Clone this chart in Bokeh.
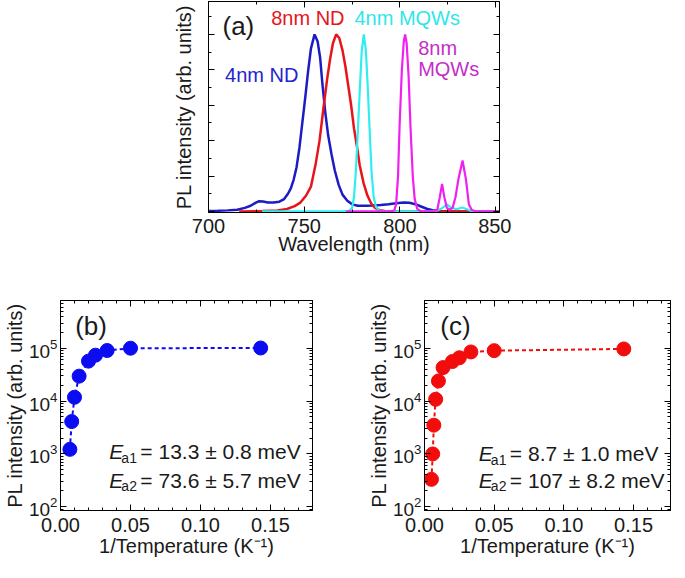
from bokeh.plotting import figure
from bokeh.models import (Range1d, LinearAxis, LogAxis, FixedTicker, SingleIntervalTicker,
                          CustomJSTickFormatter, PrintfTickFormatter, Label)
from bokeh.layouts import column, row
from bokeh.embed import file_html
from bokeh.resources import INLINE

FONT = "Liberation Sans"

# ---------------- data: panel (a) PL spectra (normalised) ----------------
nd4_wl = [700, 705, 710, 715, 719, 722, 724.5, 726.5, 728.5, 731, 734, 737, 739.5, 741.5, 743,
          744.5, 746, 747.5, 749, 750.5, 752, 753.5, 755.4, 757, 758.3, 759.5, 761, 762.5, 764.3,
          766, 768, 770, 772.5, 775, 778, 782, 786, 790, 794, 798, 802, 805, 808, 811, 814, 817,
          820, 825, 835, 852]
nd4_int = [0.003, 0.004, 0.006, 0.01, 0.02, 0.032, 0.048, 0.058, 0.056, 0.05, 0.05, 0.055, 0.07,
           0.1, 0.13, 0.18, 0.25, 0.36, 0.5, 0.64, 0.79, 0.92, 1.0, 0.96, 0.87, 0.72, 0.56, 0.43,
           0.32, 0.23, 0.15, 0.095, 0.06, 0.04, 0.032, 0.032, 0.034, 0.037, 0.041, 0.046, 0.05,
           0.049, 0.041, 0.028, 0.015, 0.007, 0.003, 0.001, 0.0, 0.0]

nd8_wl = [716, 728, 736, 741, 745, 748, 751, 753.5, 756, 758, 760, 762, 763.5, 765, 766.7, 768.3,
          770, 771.5, 773, 774.5, 776, 777.5, 779, 781, 783, 785, 787, 789, 792, 800, 852]
nd8_int = [0.0, 0.002, 0.006, 0.014, 0.03, 0.05, 0.09, 0.14, 0.27, 0.40, 0.58, 0.75, 0.86, 0.95,
           1.0, 0.98, 0.91, 0.82, 0.71, 0.6, 0.47, 0.37, 0.26, 0.16, 0.09, 0.045, 0.02, 0.008,
           0.002, 0.0, 0.0]

mqw4_wl = [728, 770, 773.5, 775, 776, 777, 778, 779, 780, 781.1, 782.2, 783.2, 784.2, 785.2,
           786.3, 787.5, 789, 792, 815, 819, 822, 824.5, 827, 829.5, 832.5, 835, 838, 852]
mqw4_int = [0, 0, 0.004, 0.02, 0.08, 0.23, 0.45, 0.68, 0.9, 1.0, 0.91, 0.7, 0.45, 0.22, 0.08,
            0.025, 0.006, 0, 0, 0.004, 0.018, 0.04, 0.02, 0.012, 0.022, 0.012, 0.0, 0.0]

mqw8_wl = [772, 795, 797, 798, 799, 799.8, 801, 802, 802.7, 803.5, 804.5, 805.5, 806.7, 807.7,
           809, 811, 818, 819.5, 820.8, 822, 823.2, 824.5, 826, 827.5, 829, 830.5, 832.7, 834.5,
           836, 837.5, 840, 852]
mqw8_int = [0, 0, 0.005, 0.04, 0.2, 0.48, 0.8, 0.96, 1.0, 0.95, 0.77, 0.48, 0.2, 0.07, 0.015, 0,
            0, 0.01, 0.08, 0.155, 0.08, 0.02, 0.01, 0.02, 0.08, 0.18, 0.288, 0.18, 0.04, 0.008,
            0, 0]

# ---------------- data: panels (b) and (c) ----------------
inv_t_b = [0.0067, 0.008, 0.01, 0.0133, 0.02, 0.025, 0.0333, 0.05, 0.143]
pl_b = [1220, 4100, 11800, 29600, 57000, 73800, 90600, 100000, 101000]

inv_t_c = [0.005, 0.0059, 0.0067, 0.008, 0.01, 0.0133, 0.02, 0.025, 0.0333, 0.05, 0.143]
pl_c = [330, 1000, 3500, 10800, 24000, 43000, 56000, 66000, 85000, 90000, 97000]

log_major = [1e2, 1e3, 1e4, 1e5]
log_minor = [m * 10 ** e for e in range(1, 6) for m in range(2, 10)]

BLUE_LINE = "#1c1cc4"
RED_LINE = "#e8141c"
CYAN_LINE = "#30eef0"
MAG_LINE = "#f020f0"


def empty_fmt():
    return CustomJSTickFormatter(code="return ''")


def style_axis(ax, major_in=6, minor_in=3):
    ax.major_tick_in = major_in
    ax.major_tick_out = 0
    ax.minor_tick_in = minor_in
    ax.minor_tick_out = 0
    ax.axis_line_color = "black"
    ax.major_tick_line_color = "black"
    ax.minor_tick_line_color = "black"
    ax.major_label_text_font = FONT
    ax.major_label_text_font_size = "20px"
    ax.major_label_text_color = "#1a1a1a"
    ax.axis_label_text_font = FONT
    ax.axis_label_text_font_size = "20px"
    ax.axis_label_text_font_style = "normal"
    ax.axis_label_text_color = "#1a1a1a"
    ax.major_label_standoff = 4
    ax.axis_label_standoff = 0


def mirror_axis(p, ax, loc):
    style_axis(ax)
    ax.major_label_standoff = 0
    ax.major_label_text_font_size = "0px"
    p.add_layout(ax, loc)


def base_fig(**kw):
    p = figure(output_backend="svg", toolbar_location=None, **kw)
    p.grid.visible = False
    p.outline_line_color = "black"
    p.outline_line_width = 1
    p.background_fill_color = "white"
    p.border_fill_color = "white"
    return p


def txt(p, x, y, text, color="#1a1a1a", size="20px", style="normal", align="left", xo=0, yo=0):
    p.add_layout(Label(x=x, y=y, text=text, text_color=color, text_font=FONT,
                       text_font_size=size, text_font_style=style, text_align=align,
                       text_baseline="middle", x_offset=xo, y_offset=yo))


# ---------------- panel (a) ----------------
pa = base_fig(frame_width=291, frame_height=211,
              x_range=Range1d(700, 852), y_range=Range1d(-0.006, 1.186),
              min_border_left=208, min_border_right=12, min_border_top=1, min_border_bottom=48)
xa_ticker = SingleIntervalTicker(interval=50, num_minor_ticks=2)
ya_ticker = SingleIntervalTicker(interval=0.2, num_minor_ticks=2)
pa.xaxis[0].ticker = xa_ticker
pa.xaxis[0].axis_label = "Wavelength (nm)"
pa.yaxis[0].ticker = ya_ticker
pa.yaxis[0].formatter = empty_fmt()
pa.yaxis[0].axis_label = "PL intensity (arb. units)"
style_axis(pa.xaxis[0])
style_axis(pa.yaxis[0])
pa.xaxis[0].major_label_standoff = 6
pa.xaxis[0].axis_label_standoff = -3
pa.yaxis[0].major_label_text_font_size = "0px"
pa.yaxis[0].major_label_standoff = 0
pa.yaxis[0].axis_label_standoff = 14
mirror_axis(pa, LinearAxis(ticker=xa_ticker, formatter=empty_fmt()), "above")
mirror_axis(pa, LinearAxis(ticker=ya_ticker, formatter=empty_fmt()), "right")

pa.line(nd4_wl, nd4_int, line_color=BLUE_LINE, line_width=2.5)
pa.line(nd8_wl, nd8_int, line_color=RED_LINE, line_width=2.5)
pa.line(mqw4_wl, mqw4_int, line_color=CYAN_LINE, line_width=2.2)
pa.line(mqw8_wl, mqw8_int, line_color=MAG_LINE, line_width=2.2)

txt(pa, 707.3, 1.045, "(a)", size="26px")
txt(pa, 751.9, 1.092, "8nm ND", color="#e8141c", align="center")
txt(pa, 803.8, 1.092, "4nm MQWs", color="#2ee6ea", align="center")
txt(pa, 727.8, 0.771, "4nm ND", color="#2424d0", align="center")
txt(pa, 809.5, 0.924, "8nm", color="#c42ec8")
txt(pa, 809.5, 0.805, "MQWs", color="#c42ec8")


# ---------------- panels (b), (c) ----------------
def arrhenius(fw, left, right, xmax, xs, ys, color, tag, e1, e2, ann_x, ann_y1, ann_y2, tag_x):
    p = base_fig(frame_width=fw, frame_height=210, x_range=Range1d(0, xmax),
                 y_range=Range1d(85, 8e5), y_axis_type="log",
                 min_border_left=left, min_border_right=right,
                 min_border_top=40, min_border_bottom=52)
    xt = SingleIntervalTicker(interval=0.05, num_minor_ticks=5)
    yt = FixedTicker(ticks=log_major, minor_ticks=log_minor)
    p.xaxis[0].ticker = xt
    p.xaxis[0].formatter = PrintfTickFormatter(format="%.2f")
    p.xaxis[0].axis_label = "1/Temperature (K\u207b\u00b9)"
    p.yaxis[0].ticker = yt
    p.yaxis[0].axis_label = "PL intensity (arb. units)"
    style_axis(p.xaxis[0])
    style_axis(p.yaxis[0])
    p.xaxis[0].major_label_standoff = 7
    p.yaxis[0].major_label_standoff = 3
    p.yaxis[0].major_label_text_font_size = "19px"
    mirror_axis(p, LinearAxis(ticker=xt, formatter=empty_fmt()), "above")
    mirror_axis(p, LogAxis(ticker=yt, formatter=empty_fmt()), "right")
    p.line(xs, ys, line_color=color, line_width=2, line_dash="4 3")
    p.scatter(xs, ys, size=14, fill_color=color, line_color=color)
    txt(p, tag_x, 2.6e5, tag, size="26px")
    for yv, sub, rest in ((ann_y1, "a1", e1), (ann_y2, "a2", e2)):
        txt(p, ann_x, yv, "E", style="italic", size="21px")
        txt(p, ann_x, yv, sub, size="14px", xo=12, yo=-6)
        txt(p, ann_x, yv, rest, size="21px", xo=31)
    return p


pb = arrhenius(252, 55, 42, 0.18, inv_t_b, pl_b, "#0c0cf2", "(b)",
               "= 13.3 \u00b1 0.8 meV", "= 73.6 \u00b1 5.7 meV", 0.0349, 1100, 316, 0.0105)
pc = arrhenius(246, 70, 4, 0.1765, inv_t_c, pl_c, "#f20c0c", "(c)",
               "= 8.7 \u00b1 1.0 meV", "= 107 \u00b1 8.2 meV", 0.039, 1000, 316, 0.0113)

layout = column(pa, row(pb, pc))

open("out.html", "w").write(file_html(layout, INLINE))
